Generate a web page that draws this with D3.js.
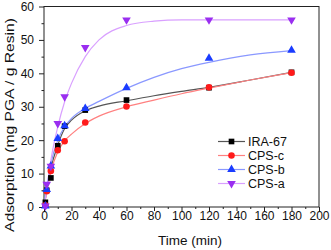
<!DOCTYPE html>
<html>
<head>
<meta charset="utf-8">
<script src="https://cdn.jsdelivr.net/npm/d3@7"></script>
<style>
  body { margin: 0; background: #fff; }
  text { font-family: "Liberation Sans", Arial, sans-serif; }
</style>
</head>
<body>
<div id="chart"></div>
<script>
// measured times (min)
let times = [1, 2, 5, 10, 15, 30, 60, 120, 180];

let ira67 = [1.4, 5.0, 8.7, 18.3, 24.2, 29.0, 32.0, 35.7, 40.3];
let cpsC  = [0.5, 4.7, 10.8, 17.0, 19.7, 25.3, 30.1, 35.8, 40.2];
let cpsB  = [0.3, 5.2, 12.3, 20.5, 24.3, 29.5, 35.7, 44.5, 46.9];
let cpsA  = [0.3, 6.8, 12.2, 25.0, 33.0, 47.7, 56.0, 56.0, 56.0];

// fitted curves
let fitX     = [0, 2, 5, 10, 15, 20, 30, 40, 60, 80, 100, 120, 150, 180];
let fitIra67 = [0, 5.0, 11.5, 18.5, 23.5, 26.0, 28.8, 30.2, 31.8, 33.3, 34.6, 35.8, 38.0, 40.3];
let fitCpsC  = [0, 4.5, 10.5, 16.5, 19.8, 21.8, 25.0, 27.2, 30.0, 32.0, 33.9, 35.6, 38.0, 40.2];
let fitCpsB  = [0, 6.0, 13.0, 20.0, 24.0, 26.5, 29.5, 31.6, 35.5, 38.8, 41.4, 43.3, 45.5, 46.8];
let fitCpsA  = [0, 5.0, 14.0, 24.0, 31.5, 37.0, 45.0, 50.0, 54.3, 55.6, 56.0, 56.0, 56.0, 56.0];

let xTicks = d3.range(0, 201, 20);
let yTicks = d3.range(0, 61, 10);

let series = [
  { name: "IRA-67", pts: ira67, fit: fitIra67, color: "#000000", line: "#555555", shape: "square" },
  { name: "CPS-c",  pts: cpsC,  fit: fitCpsC,  color: "#ff1a1a", line: "#ff8080", shape: "circle" },
  { name: "CPS-b",  pts: cpsB,  fit: fitCpsB,  color: "#1a3cff", line: "#8a98ff", shape: "up" },
  { name: "CPS-a",  pts: cpsA,  fit: fitCpsA,  color: "#9a2ef0", line: "#d9a0ff", shape: "down" }
];

////////////////////////////////////////////////////////////////////////
// SVG setup

let W = 331, H = 250;
let pL = 44, pR = 319, pT = 6.5, pB = 207;

let svg = d3.select("#chart").append("svg")
  .attr("width", W).attr("height", H);

let x = d3.scaleLinear().domain([0, 200]).range([pL, pR]);
let y = d3.scaleLinear().domain([0, 60]).range([pB, pT]);

// frame
svg.append("rect")
  .attr("x", pL).attr("y", pT)
  .attr("width", pR - pL).attr("height", pB - pT)
  .attr("fill", "none").attr("stroke", "#222").attr("stroke-width", 1);

// x axis ticks
let xAxis = svg.append("g").attr("transform", `translate(0,${pB})`);
xAxis.call(d3.axisBottom(x).tickValues(xTicks).tickSize(4).tickPadding(0).tickFormat(d3.format("d")));
xAxis.append("g").call(d3.axisBottom(x).tickValues(d3.range(10, 200, 20)).tickSize(2).tickFormat(""));
xAxis.selectAll(".domain").remove();

let yAxis = svg.append("g").attr("transform", `translate(${pL},0)`);
yAxis.call(d3.axisLeft(y).tickValues(yTicks).tickSize(5).tickPadding(5).tickFormat(d3.format("d")));
yAxis.append("g").call(d3.axisLeft(y).tickValues(d3.range(5, 60, 10)).tickSize(2.5).tickFormat(""));
yAxis.selectAll(".domain").remove();

svg.selectAll(".tick line").attr("stroke", "#222");
svg.selectAll(".tick text")
  .style("font-family", "Liberation Sans, Arial, sans-serif")
  .style("font-size", "12px").attr("fill", "#111");

// axis titles
svg.append("text")
  .attr("x", 190).attr("y", 245)
  .attr("text-anchor", "middle")
  .style("font-size", "13.5px").attr("fill", "#111")
  .text("Time (min)");

svg.append("text")
  .attr("transform", "translate(13.5,125) rotate(-90)")
  .attr("text-anchor", "middle")
  .attr("textLength", 214)
  .attr("lengthAdjust", "spacingAndGlyphs")
  .style("font-size", "13.5px").attr("fill", "#111")
  .text("Adsorption (mg PGA / g Resin)");

////////////////////////////////////////////////////////////////////////
// curves and markers

let line = d3.line()
  .x((d, i) => x(fitX[i]))
  .y(d => y(d))
  .curve(d3.curveMonotoneX);

let plot = svg.append("g");

series.forEach(s => {
  plot.append("path")
    .attr("d", line(s.fit))
    .attr("fill", "none")
    .attr("stroke", s.line)
    .attr("stroke-width", 1.2);
});

function marker(g, shape, color, cx, cy) {
  let sym;
  if (shape === "square") sym = d3.symbol(d3.symbolSquare, 32);
  else if (shape === "circle") sym = d3.symbol(d3.symbolCircle, 34);
  else sym = d3.symbol(d3.symbolTriangle, 32);
  let rot = shape === "down" ? 180 : 0;
  g.append("path")
    .attr("d", sym())
    .attr("transform", `translate(${cx},${cy}) rotate(${rot})`)
    .attr("fill", color);
}

series.forEach(s => {
  s.pts.forEach((v, i) => marker(plot, s.shape, s.color, x(times[i]), y(v)));
});

////////////////////////////////////////////////////////////////////////
// legend

let legY = [141.5, 155.5, 169.5, 183.5];
series.forEach((s, i) => {
  let g = svg.append("g").attr("transform", `translate(0,${legY[i]})`);
  g.append("line")
    .attr("x1", 218).attr("x2", 245)
    .attr("stroke", s.line).attr("stroke-width", 1.2);
  marker(g, s.shape, s.color, 231.5, 0);
  g.append("text")
    .attr("x", 248).attr("y", 4.5)
    .style("font-size", "12.5px").attr("fill", "#111")
    .text(s.name);
});
</script>
</body>
</html>
